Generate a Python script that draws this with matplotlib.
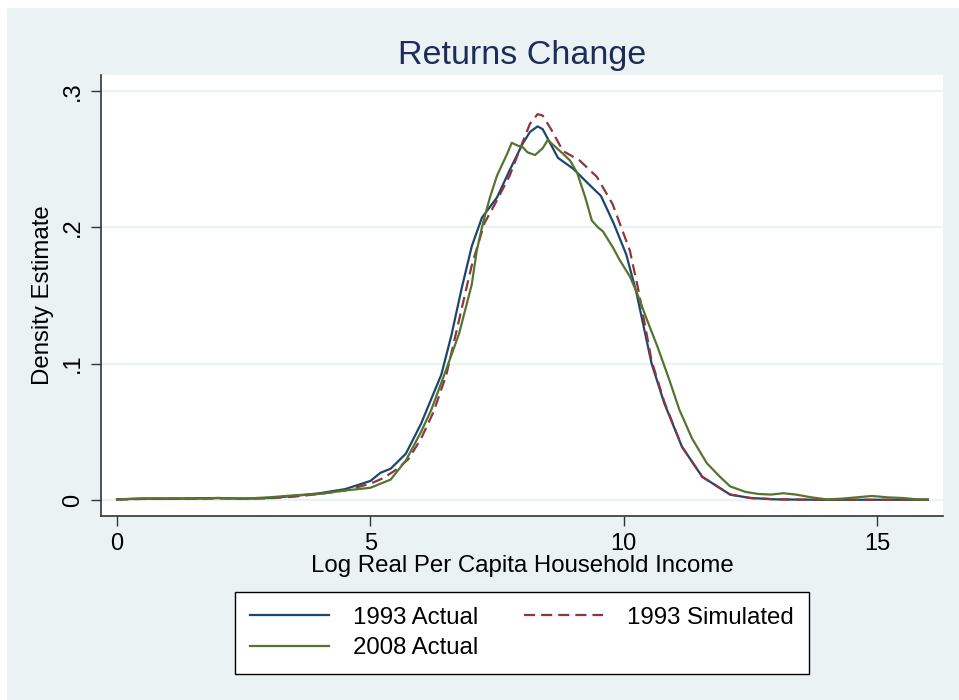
import matplotlib.pyplot as plt
import numpy as np

plt.rcParams['font.family'] = ['Liberation Sans', 'DejaVu Sans']

# 1993 Actual
x_93 = [0, 0.5, 1, 1.5, 2, 2.5, 3, 3.5, 4, 4.5, 5, 5.2, 5.4, 5.7, 6.0, 6.2, 6.4, 6.6,
        6.8, 7.0, 7.2, 7.5, 7.75, 8.0, 8.15, 8.3, 8.4, 8.5, 8.7, 9.0, 9.3, 9.55, 9.8,
        10.05, 10.25, 10.55, 10.8, 11.15, 11.55, 12.1, 12.5, 13, 13.5, 14, 14.5, 15,
        15.5, 16]
y_93 = [0.0005, 0.001, 0.001, 0.0012, 0.0015, 0.001, 0.0015, 0.003, 0.005, 0.008,
        0.014, 0.02, 0.023, 0.034, 0.056, 0.074, 0.092, 0.121, 0.155, 0.186, 0.207,
        0.222, 0.242, 0.261, 0.27, 0.274, 0.272, 0.265, 0.251, 0.243, 0.232, 0.223,
        0.203, 0.18, 0.152, 0.100, 0.071, 0.039, 0.017, 0.004, 0.0015, 0.0005,
        0.0003, 0.0002, 0.0002, 0.0002, 0.0002, 0.0002]

# 1993 Simulated
x_sim = [0, 0.5, 1, 1.5, 2, 2.5, 3, 3.5, 4, 4.5, 5, 5.25, 5.5, 5.75, 6.0, 6.25, 6.5,
         6.75, 6.93, 7.0, 7.25, 7.5, 7.75, 8.0, 8.15, 8.3, 8.4, 8.58, 8.8, 9.13,
         9.47, 9.78, 10.12, 10.3, 10.55, 10.8, 11.15, 11.55, 12.1, 12.5, 13, 14, 15, 16]
y_sim = [0.0003, 0.0008, 0.001, 0.001, 0.0012, 0.001, 0.0013, 0.0025, 0.0045, 0.007,
         0.012, 0.016, 0.022, 0.030, 0.045, 0.065, 0.092, 0.132, 0.161, 0.172, 0.203,
         0.220, 0.238, 0.262, 0.276, 0.283, 0.282, 0.271, 0.256, 0.249, 0.237, 0.217,
         0.183, 0.152, 0.102, 0.072, 0.039, 0.017, 0.004, 0.0015, 0.0005, 0.0002,
         0.0002, 0.0002]

# 2008 Actual
x_08 = [0, 0.5, 1, 1.5, 2, 2.5, 3, 3.5, 4, 4.5, 5, 5.4, 5.7, 6.0, 6.2, 6.45, 6.75,
        7.0, 7.1, 7.22, 7.36, 7.5, 7.7, 7.79, 7.9, 8.0, 8.1, 8.25, 8.4, 8.5, 8.65,
        8.8, 8.94, 9.08, 9.24, 9.37, 9.49, 9.59, 9.79, 9.92, 10.12, 10.25, 10.45,
        10.67, 10.9, 11.1, 11.35, 11.64, 11.9, 12.1, 12.4, 12.65, 12.9, 13.15, 13.4,
        13.7, 14.0, 14.3, 14.6, 14.9, 15.2, 15.5, 15.8, 16]
y_08 = [0.0005, 0.0012, 0.0012, 0.001, 0.0015, 0.001, 0.002, 0.0035, 0.0045, 0.007,
        0.009, 0.015, 0.029, 0.050, 0.066, 0.091, 0.122, 0.158, 0.183, 0.203, 0.222,
        0.238, 0.254, 0.262, 0.260, 0.259, 0.255, 0.253, 0.258, 0.264, 0.259, 0.254,
        0.249, 0.240, 0.222, 0.205, 0.200, 0.197, 0.185, 0.176, 0.164, 0.153, 0.133,
        0.112, 0.088, 0.066, 0.045, 0.027, 0.017, 0.010, 0.006, 0.0045, 0.004,
        0.005, 0.004, 0.002, 0.0005, 0.001, 0.002, 0.003, 0.002, 0.0015, 0.0005,
        0.0005]

x_ticks = [0, 5, 10, 15]
y_ticks = [0, 0.1, 0.2, 0.3]
y_ticklabels = ['0', '.1', '.2', '.3']

bg = '#eaf2f3'
fig = plt.figure(figsize=(9.59, 7.0), dpi=100, facecolor='white')
fig.patches.append(plt.Rectangle((7 / 959, 0), 1, 1 - 8 / 700, transform=fig.transFigure,
                                 facecolor=bg, edgecolor='none', zorder=-10))
ax = fig.add_axes([101 / 959, 1 - 516 / 700, (943 - 101) / 959, (516 - 75) / 700])
ax.set_facecolor('white')

l1, = ax.plot(x_93, y_93, color='#1a476f', lw=1.6, label='1993 Actual')
l2, = ax.plot(x_sim, y_sim, color='#90353b', lw=1.6, dashes=(5, 2.7), label='1993 Simulated')
l3, = ax.plot(x_08, y_08, color='#55752f', lw=1.6, label='2008 Actual')

ax.set_xlim(-0.316, 16.3)
ax.set_ylim(-0.0117, 0.3117)
ax.set_xticks(x_ticks)
ax.set_yticks(y_ticks)
ax.set_yticklabels(y_ticklabels, rotation=90, va='center')
ax.tick_params(labelsize=17, length=7, width=1, color='#333333', pad=5)
ax.grid(axis='y', color=bg, lw=1.6)
ax.set_axisbelow(True)
for s in ['top', 'right']:
    ax.spines[s].set_visible(False)
for s in ['left', 'bottom']:
    ax.spines[s].set_color('#333333')
    ax.spines[s].set_linewidth(1.2)

ax.set_xlabel('Log Real Per Capita Household Income', fontsize=17.3, labelpad=0)
ax.set_ylabel('Density Estimate', fontsize=17.3, labelpad=6)
ax.set_title('Returns Change', fontsize=24.5, color='#1e2c5a', pad=8)

leg = fig.legend([l1, l3, l2], ['1993 Actual', '2008 Actual', '1993 Simulated'],
                 ncol=2, loc='center', bbox_to_anchor=(522 / 959, 1 - 633 / 700),
                 fontsize=17.3, frameon=True, fancybox=False, framealpha=1,
                 handlelength=3.3, handletextpad=1.0, columnspacing=1.9,
                 borderpad=0.6, labelspacing=0.35)
leg.get_frame().set_edgecolor('black')
leg.get_frame().set_linewidth(1.0)

fig.savefig('out.png', dpi=100, facecolor=fig.get_facecolor())
